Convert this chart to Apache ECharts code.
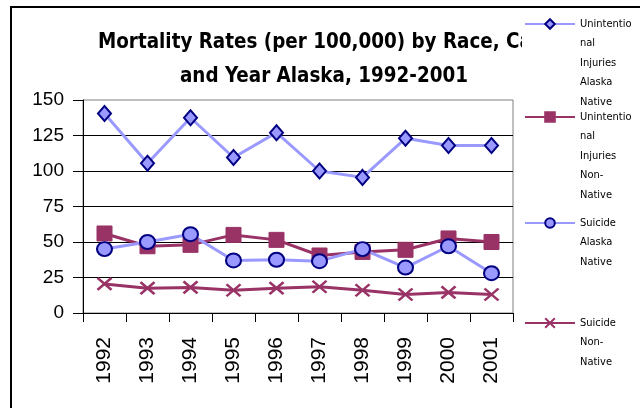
<!DOCTYPE html>
<html>
<head>
<meta charset="utf-8">
<script src="https://cdn.jsdelivr.net/npm/echarts@6/dist/echarts.min.js"></script>
<style>
	html, body { margin: 0; padding: 0; background: #fff; }
	#chart { width: 640px; height: 408px; }
</style>
</head>
<body>
<div id="chart"></div>
<script>
// 数据
var years = ['1992', '1993', '1994', '1995', '1996', '1997', '1998', '1999', '2000', '2001'];
var unintNative = [140.5, 105.5, 137.5, 109.5, 127, 100, 95.5, 123, 118, 118];
var unintNonNative = [56, 47, 48, 55, 51.5, 40.5, 43, 44.5, 52.5, 50];
var suicideNative = [45, 50, 55.5, 37, 37.5, 36.5, 45, 32, 47, 28];
var suicideNonNative = [20.5, 17.5, 18, 16, 17.5, 18.5, 16, 13, 14.5, 13];

var seriesNames = [
	'Unintentional Injuries Alaska Native',
	'Unintentional Injuries Non-Native',
	'Suicide Alaska Native',
	'Suicide Non-Native'
];
// 图例里的换行文字
var legendLabels = [
	'Unintentio\nnal\nInjuries\nAlaska\nNative',
	'Unintentio\nnal\nInjuries\nNon-\nNative',
	'Suicide\nAlaska\nNative',
	'Suicide\nNon-\nNative'
];
var titleLine1 = 'Mortality Rates (per 100,000) by Race, Cause';
var titleLine2 = 'and Year Alaska, 1992-2001';

var COLOR = {
	LIGHT: '#9999FF',
	NAVY: '#000080',
	PLUM: '#993366'
};

var AXIS_FONT = '"Liberation Sans", Arial, sans-serif';
var TEXT_FONT = '"DejaVu Sans Condensed", "DejaVu Sans", sans-serif';

var titleStyle = {
	fontFamily: TEXT_FONT,
	fontWeight: 'bold',
	fontSize: 20.4,
	lineHeight: 34,
	color: '#000'
};

// 图例: 每项单独一个, 文字前面补空行, 让图标对齐第一行
var legendIconY = [24, 117, 223, 323];
var LINE_H = 19.5;

function makeLegend(i) {
	var n = legendLabels[i].split('\n').length;
	var h = (2 * n - 1) * LINE_H;
	return {
		data: [seriesNames[i]],
		orient: 'vertical',
		left: 524,
		top: legendIconY[i] - h / 2,
		padding: 0,
		itemWidth: 50,
		itemHeight: 12,
		selectedMode: false,
		z: 10,
		formatter: function (name) {
			var label = legendLabels[seriesNames.indexOf(name)];
			var lines = label.split('\n').length;
			return new Array(lines).join('\n') + label;
		},
		textStyle: {
			fontFamily: TEXT_FONT,
			fontSize: 11,
			lineHeight: LINE_H,
			color: '#000'
		}
	};
}

var myChart = echarts.init(document.getElementById('chart'));
myChart.setOption({
	animation: false,
	title: [{
		text: titleLine1,
		left: 98,
		top: 26,
		padding: 0,
		textAlign: 'left',
		z: 1,
		textStyle: titleStyle
	}, {
		text: titleLine2,
		left: 324,
		top: 60,
		padding: 0,
		textAlign: 'center',
		z: 1,
		textStyle: titleStyle
	}],
	legend: [makeLegend(0), makeLegend(1), makeLegend(2), makeLegend(3)],
	graphic: [{
		// 图例区域的白底, 盖住标题超出的部分
		type: 'rect',
		z: 5,
		silent: true,
		shape: { x: 522, y: 12, width: 130, height: 80 },
		style: { fill: '#ffffff' }
	}, {
		type: 'rect',
		z: 100,
		silent: true,
		shape: { x: 11, y: 7, width: 720, height: 520 },
		style: { fill: 'none', stroke: '#000', lineWidth: 2 }
	}],
	grid: {
		left: 83,
		right: 127,
		top: 100,
		bottom: 95,
		show: true,
		borderColor: '#808080',
		borderWidth: 1,
		outerBoundsMode: 'none'
	},
	xAxis: {
		type: 'category',
		boundaryGap: true,
		data: years,
		axisLine: { show: true, lineStyle: { color: '#000', width: 1 } },
		axisTick: { show: true, length: 9, lineStyle: { color: '#000' } },
		axisLabel: {
			interval: 0,
			rotate: 90,
			margin: 24,
			fontFamily: AXIS_FONT,
			fontSize: 21,
			color: '#000'
		},
		splitLine: { show: false }
	},
	yAxis: {
		type: 'value',
		min: 0,
		max: 150,
		interval: 25,
		axisLine: { show: true, lineStyle: { color: '#000', width: 1 } },
		axisTick: { show: true, length: 10, lineStyle: { color: '#000' } },
		axisLabel: {
			margin: 19,
			fontFamily: AXIS_FONT,
			fontSize: 19,
			color: '#000'
		},
		splitLine: { show: true, showMaxLine: false, lineStyle: { color: '#000', width: 1 } }
	},
	series: [{
		name: seriesNames[0],
		type: 'line',
		data: unintNative,
		symbol: 'diamond',
		symbolSize: [13, 15],
		lineStyle: { color: COLOR.LIGHT, width: 3 },
		itemStyle: { color: COLOR.LIGHT, borderColor: COLOR.NAVY, borderWidth: 2 },
		emphasis: { disabled: true }
	}, {
		name: seriesNames[1],
		type: 'line',
		data: unintNonNative,
		symbol: 'rect',
		symbolSize: 15,
		lineStyle: { color: COLOR.PLUM, width: 3 },
		itemStyle: { color: COLOR.PLUM, borderColor: COLOR.PLUM, borderWidth: 1 },
		emphasis: { disabled: true }
	}, {
		name: seriesNames[2],
		type: 'line',
		data: suicideNative,
		symbol: 'circle',
		symbolSize: [15, 14],
		lineStyle: { color: COLOR.LIGHT, width: 3 },
		itemStyle: { color: COLOR.LIGHT, borderColor: COLOR.NAVY, borderWidth: 2 },
		emphasis: { disabled: true }
	}, {
		name: seriesNames[3],
		type: 'line',
		data: suicideNonNative,
		symbol: 'path://M0,0L10,10M10,0L0,10',
		symbolSize: [14, 12],
		symbolKeepAspect: false,
		lineStyle: { color: COLOR.PLUM, width: 3 },
		itemStyle: { color: COLOR.PLUM, borderColor: COLOR.PLUM, borderWidth: 2.5 },
		emphasis: { disabled: true }
	}]
});
</script>
</body>
</html>
